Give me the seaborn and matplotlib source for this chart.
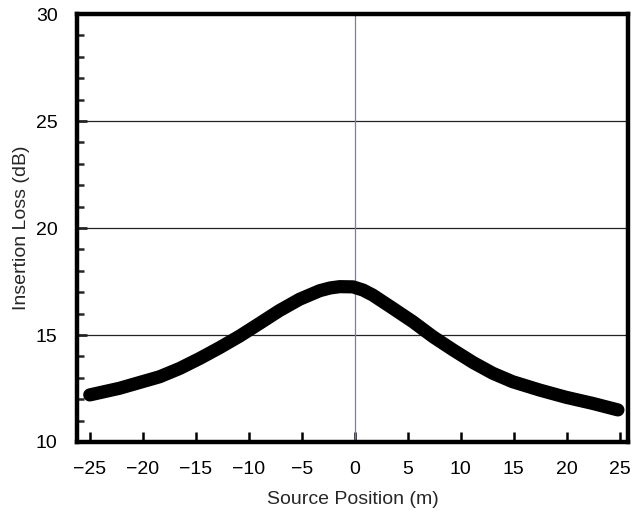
import matplotlib
matplotlib.use("Agg")
import matplotlib.pyplot as plt
import seaborn as sns
import pandas as pd
from matplotlib.ticker import MultipleLocator

# Insertion loss versus source position along the barrier
source_position = [-25.0, -22.2, -18.4, -16.5, -14.6, -12.7, -10.85, -8.95, -7.1, -5.2,
                   -3.3, -2.3, -1.4, -0.15, 0.8, 1.7, 3.6, 5.5, 7.4, 9.3, 11.2, 13.05,
                   14.9, 17.45, 19.95, 22.5, 24.85]
insertion_loss = [12.2, 12.51, 13.05, 13.44, 13.91, 14.42, 14.95, 15.55, 16.14, 16.67,
                  17.07, 17.2, 17.26, 17.25, 17.1, 16.87, 16.25, 15.62, 14.92, 14.3, 13.71, 13.21,
                  12.82, 12.43, 12.09, 11.8, 11.5]

x_ticks = [-25, -20, -15, -10, -5, 0, 5, 10, 15, 20, 25]
y_ticks = [10, 15, 20, 25, 30]

df = pd.DataFrame({"Source Position (m)": source_position,
                   "Insertion Loss (dB)": insertion_loss})

sns.set_style("white")
plt.rcParams["font.family"] = ["Liberation Sans", "DejaVu Sans"]

fig = plt.figure(figsize=(6.34, 5.20), dpi=100)
ax = fig.add_axes([0.1215, 0.15, 0.869, 0.823])

# reference grid: horizontal lines and the centre line
for yv in [15, 20, 25]:
    ax.axhline(yv, color="#222222", lw=0.9, zorder=1)
ax.axvline(0, color="#7a7f99", lw=0.9, zorder=1)

sns.lineplot(data=df, x="Source Position (m)", y="Insertion Loss (dB)", ax=ax,
             color="black", lw=9.5, solid_capstyle="round", solid_joinstyle="round",
             zorder=3)

ax.set_xlim(-26.2, 25.8)
ax.set_ylim(10, 30)
ax.set_xticks(x_ticks)
ax.set_yticks(y_ticks)
ax.set_xticklabels([str(t).replace("-", "\u2212") for t in x_ticks])
ax.yaxis.set_minor_locator(MultipleLocator(1))

for s in ax.spines.values():
    s.set_linewidth(3.2)
    s.set_color("black")

ax.tick_params(axis="both", which="major", direction="in", length=7, width=1.8,
               labelsize=14, colors="black")
ax.tick_params(axis="x", which="major", pad=14)
ax.tick_params(axis="y", which="major", pad=14)
ax.tick_params(axis="y", which="minor", direction="in", length=5, width=1.8, left=True)
ax.tick_params(axis="x", which="major", top=False, bottom=True)
ax.tick_params(axis="y", which="both", right=False, left=True)

ax.set_xlabel("Source Position (m)", fontsize=14, labelpad=9)
ax.set_ylabel("Insertion Loss (dB)", fontsize=14, labelpad=4)

fig.savefig("out.png", dpi=100)
